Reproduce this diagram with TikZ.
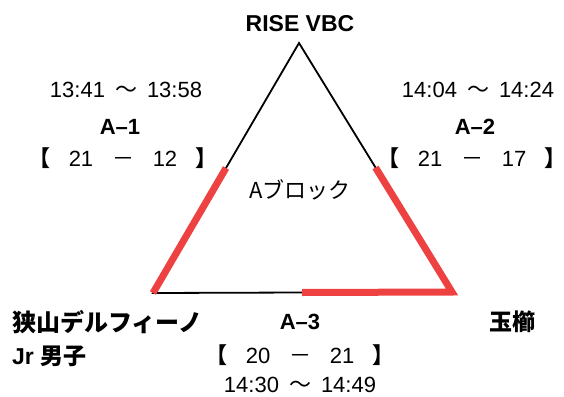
\documentclass[tikz,border=0pt]{standalone}
\usepackage{fontspec}
\setmainfont{Liberation Sans}
\newfontfamily\jp{Noto Sans CJK JP}
\newfontfamily\jpp[RawFeature=+palt]{Noto Sans CJK JP}
\usepackage{xcolor}
\usetikzlibrary{positioning}

\definecolor{winred}{RGB}{238,66,66}

% score in brackets and match time
\newcommand{\score}[2]{{\jpp\bfseries 【}\hspace{10pt}\makebox[42pt]{#1}\makebox[42pt]{\jp －}\makebox[42pt]{#2}\hspace{10pt}{\jpp\bfseries 】}}
\newcommand{\playtime}[2]{#1\hspace{10pt}{\jp ～}\hspace{10pt}#2}

\begin{document}
\begin{tikzpicture}[
  x=1pt, y=-1pt,
  team/.style={font=\fontsize{23}{26}\selectfont\bfseries, inner sep=0pt},
  jpteam/.style={font=\fontsize{24}{27}\selectfont\jp\bfseries, inner sep=0pt},
  match/.style={font=\fontsize{22}{25}\selectfont\bfseries, inner sep=0pt},
  info/.style={font=\fontsize{22}{25}\selectfont, inner sep=0pt},
  edge/.style={line width=1.8pt, black},
  win/.style={line width=7pt, winred, line join=miter},
]
\useasboundingbox (0,0) rectangle (564,396);

% Triangle corners
\coordinate (top) at (299,43);
\coordinate (bl) at (153,293);
\coordinate (br) at (452,292);
\coordinate (mleft) at (226,168);
\coordinate (mright) at (375.5,167.5);
\coordinate (mbottom) at (302,292.5);

% Edges
\draw[edge] (top) -- (bl) -- (br) -- cycle;
\draw[win] (mleft) -- (bl);
\draw[win] (mright) -- (br) -- (mbottom);

% Teams
\node[team] (rise) at (300,24) {RISE VBC};
\node[jpteam, anchor=west] (sayama) at (12,322) {狭山デルフィーノ};
\node[team, anchor=west] (jr) at (12,356) {Jr {\jp 男子}};
\node[jpteam, font=\fontsize{23}{26}\selectfont\jp\bfseries] (tamakushi) at (512,322) {玉櫛};
\node[info, font=\fontsize{22}{25}\selectfont\jp] (block) at (300,190) {Aブロック};

% A-1
\node[info] (t1) at (126,90) {\playtime{13:41}{13:58}};
\node[match] (a1) at (120,127) {A--1};
\node[info] (s1) at (123,158) {\score{21}{12}};

% A-2
\node[info] (t2) at (478,90) {\playtime{14:04}{14:24}};
\node[match] (a2) at (475,127) {A--2};
\node[info] (s2) at (472,158) {\score{21}{17}};

% A-3
\node[match] (a3) at (300,322) {A--3};
\node[info] (s3) at (300,355) {\score{20}{21}};
\node[info] (t3) at (300,385) {\playtime{14:30}{14:49}};

\end{tikzpicture}
\end{document}
